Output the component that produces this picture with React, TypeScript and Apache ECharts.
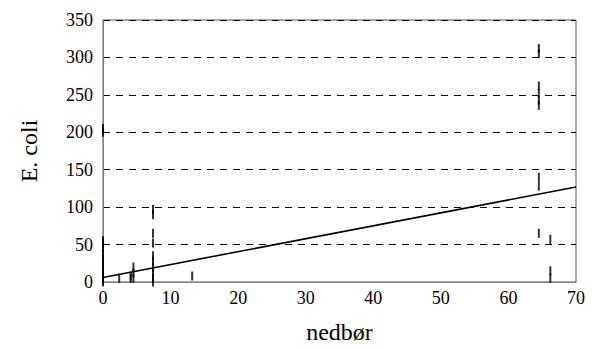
import React, { useEffect, useRef } from "react";
import * as echarts from "echarts";

const xTicks = [0, 10, 20, 30, 40, 50, 60, 70];
const yTicks = [0, 50, 100, 150, 200, 250, 300, 350];

const pointX = [
  0, 0, 0, 0, 0, 0, 0, 0, 0, 0, 0, 0, 0,
  2.4,
  4.1, 4.1,
  4.5, 4.5, 4.5,
  7.4, 7.4, 7.4, 7.4, 7.4, 7.4, 7.4, 7.4, 7.4, 7.4,
  13.2,
  64.5, 64.5, 64.5, 64.5, 64.5, 64.5, 64.5, 64.5, 64.5,
  66.2, 66.2, 66.2,
];
const pointY = [
  0, 3, 8, 12, 18, 25, 30, 38, 45, 52, 55, 200, 205,
  5,
  5, 8,
  5, 12, 20,
  0, 5, 12, 20, 28, 35, 52, 65, 90, 97,
  8,
  312, 305, 262, 252, 243, 236, 140, 128, 65,
  57, 15, 5,
];

const trendX = [0, 70];
const trendY = [6, 127];

const font = "Liberation Serif, Times New Roman, serif";

export default function App() {
  const ref = useRef<HTMLDivElement>(null);
  useEffect(() => {
    if (!ref.current) return;
    const chart = echarts.init(ref.current, undefined, { renderer: "svg" });
    chart.setOption({
      animation: false,
      backgroundColor: "#fff",
      textStyle: { fontFamily: font, color: "#000" },
      grid: {
        left: 103,
        right: 16,
        top: 20,
        bottom: 64,
        show: true,
        borderColor: "#555",
        borderWidth: 1,
        backgroundColor: "transparent",
      },
      xAxis: {
        type: "value",
        min: xTicks[0],
        max: xTicks[xTicks.length - 1],
        interval: 10,
        name: "nedbør",
        nameLocation: "middle",
        nameGap: 38,
        nameTextStyle: { fontFamily: font, fontSize: 24, color: "#000" },
        axisLine: { show: true, lineStyle: { color: "#808080", width: 1 } },
        axisTick: { show: false },
        splitLine: { show: false },
        axisLabel: {
          textStyle: { fontFamily: font, fontSize: 18 },
          fontFamily: font,
          fontSize: 18,
          color: "#000",
          margin: 7,
        },
      },
      yAxis: {
        type: "value",
        min: yTicks[0],
        max: yTicks[yTicks.length - 1],
        interval: 50,
        name: "E. coli",
        nameLocation: "middle",
        nameGap: 62,
        nameTextStyle: { fontFamily: font, fontSize: 24, color: "#000" },
        axisLine: { show: true, lineStyle: { color: "#808080", width: 1 } },
        axisTick: { show: false },
        splitLine: {
          show: true,
          lineStyle: { color: "#000", width: 1, type: [7, 6] },
        },
        axisLabel: {
          fontFamily: font,
          fontSize: 18,
          color: "#000",
          margin: 10,
        },
      },
      series: [
        {
          type: "line",
          data: trendX.map((x, i) => [x, trendY[i]]),
          showSymbol: false,
          symbol: "none",
          lineStyle: { color: "#000", width: 1.6 },
          z: 3,
        },
        {
          type: "scatter",
          data: pointX.map((x, i) => [x, pointY[i]]),
          symbol: "rect",
          symbolSize: [2, 9],
          itemStyle: { color: "#000" },
          z: 4,
        },
      ],
    });
    return () => chart.dispose();
  }, []);
  return <div ref={ref} style={{ width: 592, height: 349, position: "absolute", left: 0, top: 0 }} />;
}
